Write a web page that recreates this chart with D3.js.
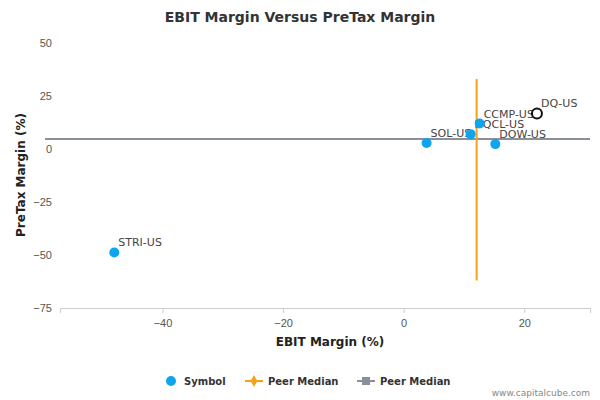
<!DOCTYPE html>
<html><head><meta charset="utf-8">
<script src="https://cdn.jsdelivr.net/npm/d3@7"></script>
<style>body{margin:0;background:#fff;font-family:"DejaVu Sans",sans-serif}</style>
</head><body><svg id="chart" width="600" height="400"></svg>
<script>
var names = ["STRI-US", "SOL-US", "NQCL-US", "CCMP-US", "DOW-US", "DQ-US"];
var ebit = [-48, 3.8, 11.1, 12.6, 15.2, 22.1];
var pretax = [-48.8, 2.8, 7, 12, 2.3, 16.8];
var peerX = 12.1, peerY = 4.7;
var xTicks = [-40, -20, 0, 20];
var yTicks = [50, 25, 0, -25, -50, -75];

var svg = d3.select("#chart");
var x = d3.scaleLinear().domain([-57, 30.9]).range([60, 590]);
var y = d3.scaleLinear().domain([-75, 50]).range([308, 43]);

svg.append("text").attr("x", 300).attr("y", 22).attr("text-anchor", "middle")
  .attr("font-size", 14).attr("font-weight", "bold").attr("fill", "#333").text("EBIT Margin Versus PreTax Margin");

var gx = svg.append("g").attr("transform", "translate(0,308)")
  .call(d3.axisBottom(x).tickValues(xTicks).tickSize(5).tickFormat(d3.format("d")));
gx.select(".domain").attr("stroke", "#ccc");
gx.selectAll("line").attr("stroke", "#ccc");
gx.selectAll("text").attr("fill", "#555").attr("font-size", 11).attr("dy", "1em");

var gy = svg.append("g").attr("transform", "translate(60,0)")
  .call(d3.axisLeft(y).tickValues(yTicks).tickSize(0).tickPadding(8));
gy.select(".domain").remove();
gy.selectAll("text").attr("fill", "#555").attr("font-size", 11);

svg.append("text").attr("x", 330).attr("y", 346).attr("text-anchor", "middle")
  .attr("font-size", 12).attr("font-weight", "bold").attr("fill", "#222").text("EBIT Margin (%)");
svg.append("text").attr("transform", "translate(25,175) rotate(-90)").attr("text-anchor", "middle")
  .attr("font-size", 12).attr("font-weight", "bold").attr("fill", "#222").text("PreTax Margin (%)");

svg.append("line").attr("x1", 45).attr("x2", 590).attr("y1", y(peerY)).attr("y2", y(peerY))
  .attr("stroke", "#8a8f9c").attr("stroke-width", 2);
svg.append("line").attr("x1", x(peerX)).attr("x2", x(peerX)).attr("y1", y(33)).attr("y2", y(-62))
  .attr("stroke", "#f5a21b").attr("stroke-width", 2);

var pts = svg.append("g").selectAll("g").data(names).join("g");
pts.append("circle").attr("cx", (d, i) => x(ebit[i])).attr("cy", (d, i) => y(pretax[i])).attr("r", 5)
  .attr("fill", d => d == "DQ-US" ? "#fff" : "#0ea5ee")
  .attr("stroke", d => d == "DQ-US" ? "#111" : "none").attr("stroke-width", 2);
pts.append("text").attr("x", (d, i) => x(ebit[i]) + 4).attr("y", (d, i) => y(pretax[i]) - 6)
  .attr("font-size", 11).attr("fill", "#444").text(d => d);

var lg = svg.append("g").attr("font-size", 10).attr("font-weight", "bold").attr("fill", "#333");
lg.append("circle").attr("cx", 171).attr("cy", 381).attr("r", 5).attr("fill", "#0ea5ee");
lg.append("text").attr("x", 184).attr("y", 385).text("Symbol");
lg.append("line").attr("x1", 245).attr("x2", 263).attr("y1", 381).attr("y2", 381).attr("stroke", "#f5a21b").attr("stroke-width", 2);
lg.append("path").attr("d", d3.symbol(d3.symbolDiamond, 40)()).attr("transform", "translate(254,381)").attr("fill", "#f5a21b");
lg.append("text").attr("x", 268).attr("y", 385).text("Peer Median");
lg.append("line").attr("x1", 357).attr("x2", 375).attr("y1", 381).attr("y2", 381).attr("stroke", "#8a8f9c").attr("stroke-width", 2);
lg.append("rect").attr("x", 362).attr("y", 377).attr("width", 8).attr("height", 8).attr("fill", "#8a8f9c");
lg.append("text").attr("x", 380).attr("y", 385).text("Peer Median");

svg.append("text").attr("x", 590).attr("y", 396).attr("text-anchor", "end").attr("font-size", 9)
  .attr("fill", "#888").text("www.capitalcube.com");
</script></body></html>
